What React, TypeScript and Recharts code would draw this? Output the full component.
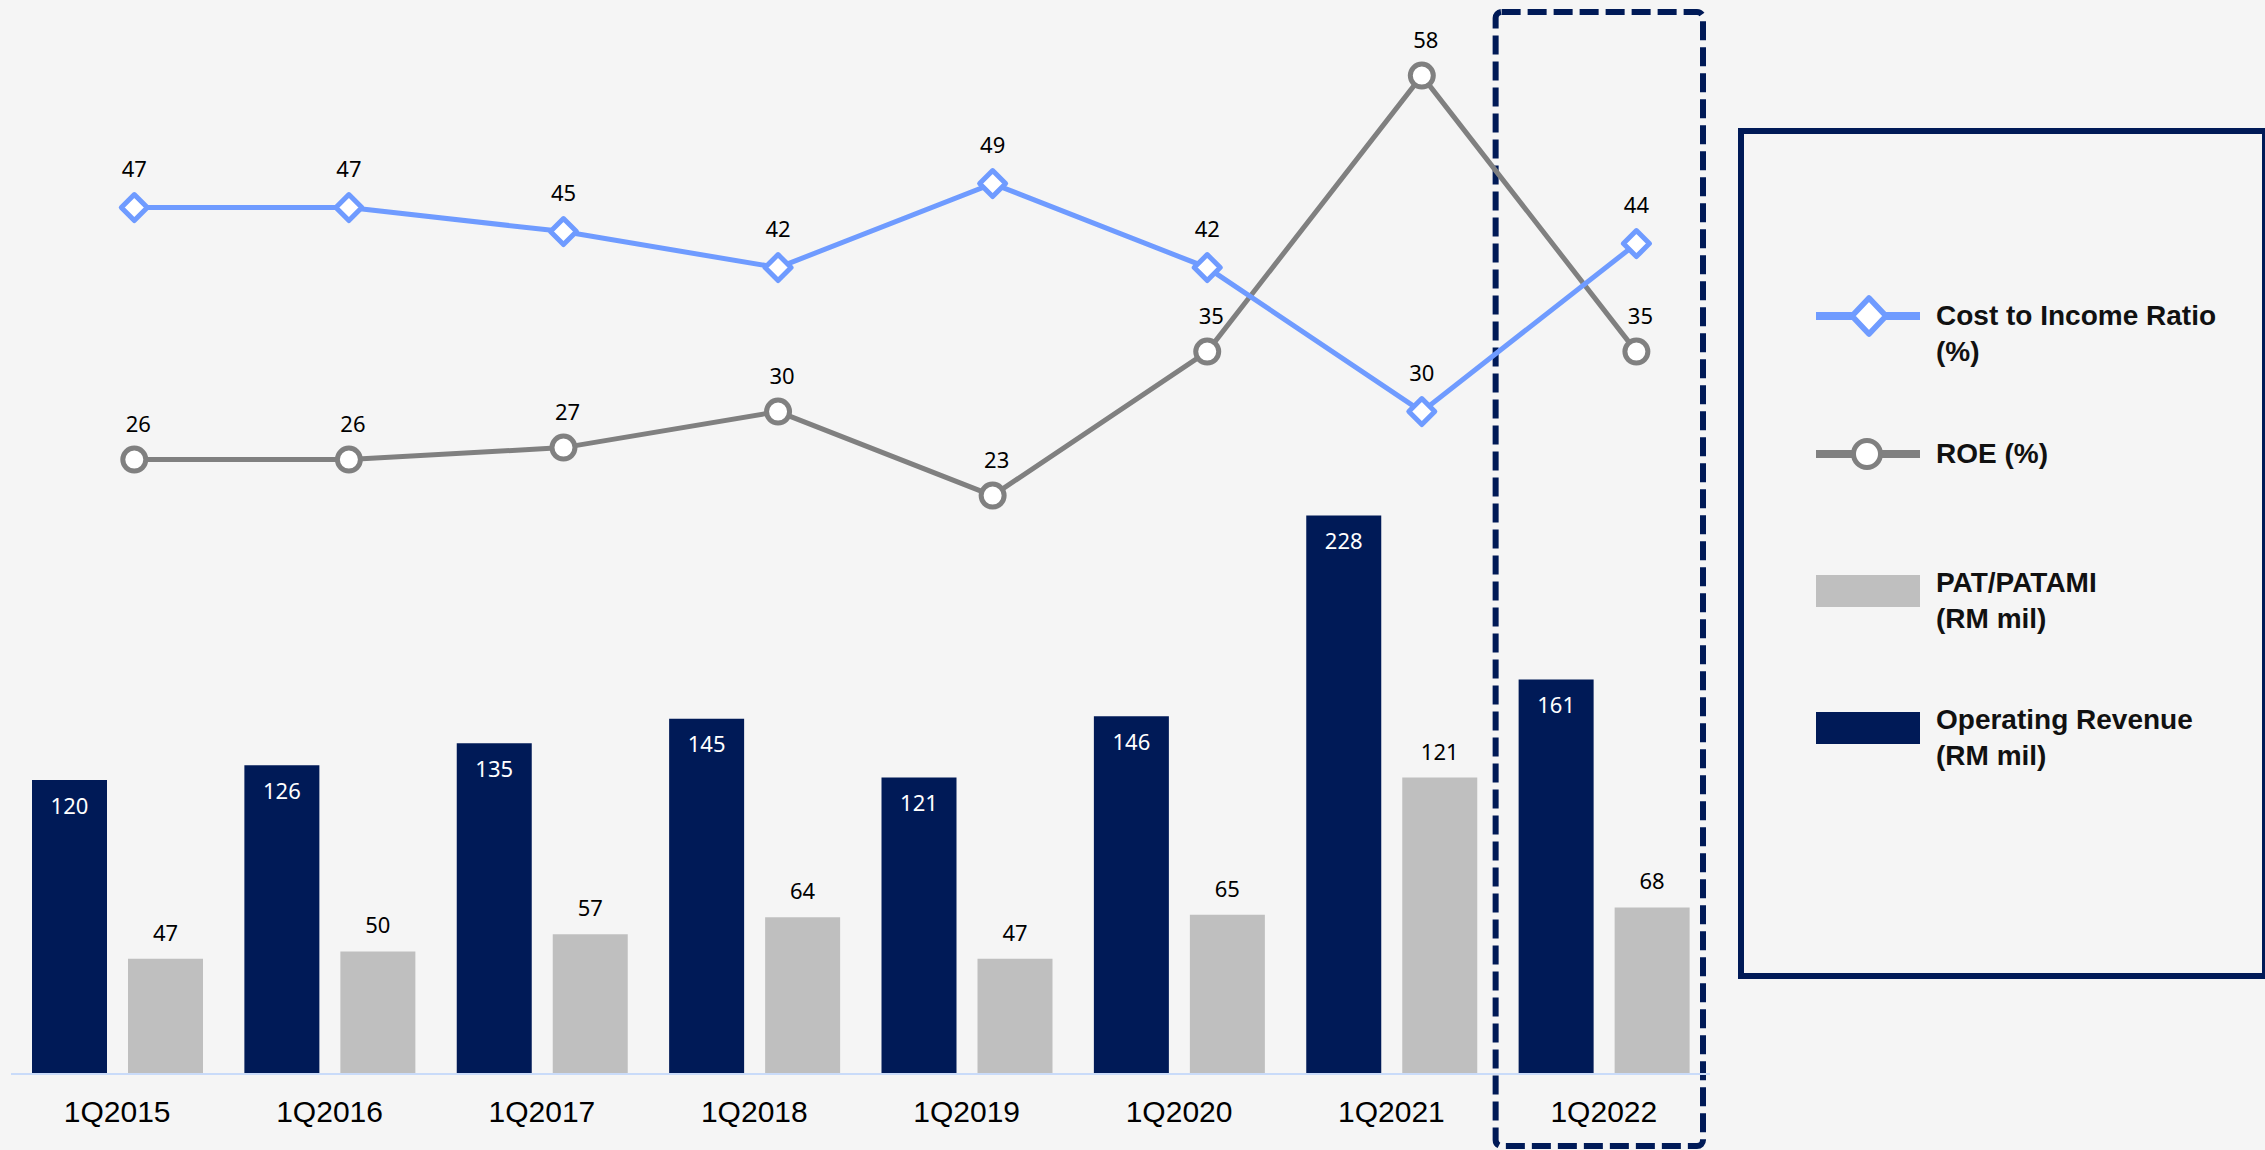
import React from "react";
import {
  ComposedChart,
  Bar,
  Line,
  XAxis,
  YAxis,
  LabelList,
  ReferenceArea,
} from "recharts";

const quarters = ["1Q2015", "1Q2016", "1Q2017", "1Q2018", "1Q2019", "1Q2020", "1Q2021", "1Q2022"];
const operatingRevenue = [120, 126, 135, 145, 121, 146, 228, 161];
const patPatami = [47, 50, 57, 64, 47, 65, 121, 68];
const costToIncome = [47, 47, 45, 42, 49, 42, 30, 44];
const roe = [26, 26, 27, 30, 23, 35, 58, 35];
const highlightQuarter = "1Q2022";

const NAVY = "#001a57";
const GREY_BAR = "#bfbfbf";
const BLUE = "#6f9bff";
const GREY_LINE = "#808080";
const BG = "#f5f5f5";

const data = quarters.map((q, i) => ({
  quarter: q,
  idx: i,
  rev: operatingRevenue[i],
  pat: patPatami[i],
  cir: costToIncome[i],
  roe: roe[i],
}));

const numFont = "'Noto Sans', 'Open Sans', sans-serif";
const arial = "'Liberation Sans', Arial, sans-serif";

const DiamondDot = (props: any) => {
  const { cx, cy, index } = props;
  if (cx == null || cy == null) return null;
  const h = 13;
  return (
    <polygon
      key={`d-${index}`}
      points={`${cx},${cy - h} ${cx + h},${cy} ${cx},${cy + h} ${cx - h},${cy}`}
      fill="#ffffff"
      stroke={BLUE}
      strokeWidth={5}
      strokeLinejoin="round"
    />
  );
};

const CircleDot = (props: any) => {
  const { cx, cy, index } = props;
  if (cx == null || cy == null) return null;
  return <circle key={`c-${index}`} cx={cx} cy={cy} r={11.5} fill="#ffffff" stroke={GREY_LINE} strokeWidth={5} />;
};

const legendItems = [
  { kind: "diamond", color: BLUE, lines: ["Cost to Income Ratio", "(%)"], top: 316 },
  { kind: "circle", color: GREY_LINE, lines: ["ROE (%)"], top: 454 },
  { kind: "rect", color: GREY_BAR, lines: ["PAT/PATAMI", "(RM mil)"], top: 591 },
  { kind: "rect", color: NAVY, lines: ["Operating Revenue", "(RM mil)"], top: 728 },
];

function LegendIcon({ kind, color }: { kind: string; color: string }) {
  return (
    <svg width={104} height={46} style={{ display: "block" }}>
      {kind === "rect" && <rect x={0} y={7} width={104} height={32} fill={color} />}
      {kind !== "rect" && <line x1={0} y1={23} x2={104} y2={23} stroke={color} strokeWidth={8} />}
      {kind === "diamond" && (
        <polygon points="53,5 70,23 53,41 36,23" fill="#fff" stroke={color} strokeWidth={5.5} strokeLinejoin="round" />
      )}
      {kind === "circle" && <circle cx={51} cy={23} r={13.5} fill="#fff" stroke={color} strokeWidth={5} />}
    </svg>
  );
}

export default function App() {
  return (
    <div style={{ position: "absolute", left: 0, top: 0, width: 2265, height: 1150, background: BG, overflow: "hidden" }}>
      <ComposedChart
        width={2265}
        height={1150}
        data={data}
        margin={{ top: 39.6, right: 555, bottom: 36, left: 11 }}
        barGap={21}
      >
        <XAxis
          xAxisId="bar"
          dataKey="quarter"
          interval={0}
          height={40}
          tickLine={false}
          tickMargin={21}
          axisLine={{ stroke: "#c9dbf9", strokeWidth: 2 }}
          tick={{ fontSize: 30, fill: "#000", fontFamily: arial }}
        />
        <XAxis xAxisId="line" dataKey="idx" type="number" domain={[-0.5746, 7.343]} allowDataOverflow hide />
        <YAxis yAxisId="bar" domain={[0, 422.2]} allowDataOverflow hide />
        <YAxis yAxisId="line" domain={[-25.2, 61]} allowDataOverflow hide />

        <Bar xAxisId="bar" yAxisId="bar" dataKey="rev" fill={NAVY} barSize={75} isAnimationActive={false}>
          <LabelList dataKey="rev" position="insideTop" offset={18} fill="#ffffff" fontSize={22} fontFamily={numFont} />
        </Bar>
        <Bar xAxisId="bar" yAxisId="bar" dataKey="pat" fill={GREY_BAR} barSize={75} isAnimationActive={false}>
          <LabelList dataKey="pat" position="top" offset={18} fill="#000" fontSize={22} fontFamily={numFont} />
        </Bar>

        <Line
          xAxisId="line"
          yAxisId="line"
          dataKey="roe"
          stroke={GREY_LINE}
          strokeWidth={5}
          dot={<CircleDot />}
          activeDot={false}
          isAnimationActive={false}
        >
          <LabelList dataKey="roe" position="top" offset={28} dx={4} fill="#000" fontSize={22} fontFamily={numFont} />
        </Line>
        <Line
          xAxisId="line"
          yAxisId="line"
          dataKey="cir"
          stroke={BLUE}
          strokeWidth={5}
          dot={<DiamondDot />}
          activeDot={false}
          isAnimationActive={false}
        >
          <LabelList dataKey="cir" position="top" offset={31} fill="#000" fontSize={22} fontFamily={numFont} />
        </Line>

        <ReferenceArea
          xAxisId="bar"
          yAxisId="bar"
          x1={highlightQuarter}
          x2={highlightQuarter}
          y1={-29.4}
          y2={433.5}
          ifOverflow="visible"
          shape={(p: any) => (
            <rect
              x={p.x - 2}
              y={p.y}
              width={p.width - 5}
              height={p.height}
              rx={6}
              fill="none"
              stroke={NAVY}
              strokeWidth={6}
              strokeDasharray="19 7"
            />
          )}
        />
      </ComposedChart>

      <div
        style={{
          position: "absolute",
          left: 1738,
          top: 128,
          width: 530,
          height: 851,
          border: `6px solid ${NAVY}`,
          boxSizing: "border-box",
        }}
      />
      {legendItems.map((item) => (
        <React.Fragment key={item.lines[0]}>
          <div style={{ position: "absolute", left: 1816, top: item.top - 23 }}>
            <LegendIcon kind={item.kind} color={item.color} />
          </div>
          <div
            style={{
              position: "absolute",
              left: 1936,
              top: item.top - 18 - (item.kind === "rect" ? 8 : 0),
              fontFamily: arial,
              fontWeight: "bold",
              fontSize: 28,
              lineHeight: "36px",
              color: "#111",
              whiteSpace: "nowrap",
            }}
          >
            {item.lines.map((l) => (
              <div key={l}>{l}</div>
            ))}
          </div>
        </React.Fragment>
      ))}
    </div>
  );
}
